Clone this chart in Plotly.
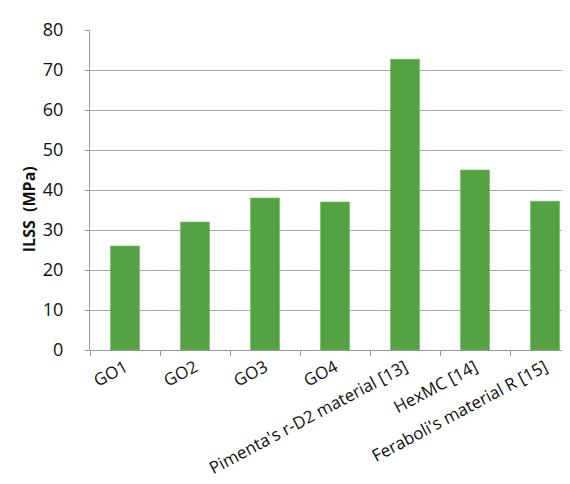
import plotly.graph_objects as go

categories = ["GO1", "GO2", "GO3", "GO4", "Pimenta's r-D2 material [13]",
              "HexMC [14]", "Feraboli's material R [15]"]
ilss_values = [26, 32, 38, 37, 72.7, 45, 37.2]
y_ticks = [0, 10, 20, 30, 40, 50, 60, 70, 80]

fig = go.Figure(go.Bar(
    x=categories, y=ilss_values,
    marker=dict(color="#55a244", line=dict(color="#6cc05a", width=0.6)),
))

font_family = "Open Sans"
fig.update_layout(
    width=570, height=484,
    margin=dict(l=82, r=0, t=22, b=142),
    paper_bgcolor="white", plot_bgcolor="white",
    bargap=0.585,
    showlegend=False,
    font=dict(family=font_family, color="#222222"),
)
fig.update_xaxes(
    range=[-0.5, 6.471],
    tickangle=-28,
    tickfont=dict(size=17, color="#111111"),
    showline=True, linecolor="#999999", linewidth=1,
    ticks="outside", tickson="boundaries", ticklen=5, tickcolor="#999999",
    showgrid=False,
)
fig.update_yaxes(
    range=[0, 80], tickvals=y_ticks,
    tickfont=dict(size=18, color="#111111"),
    showgrid=True, gridcolor="#a6a6a6", gridwidth=1,
    showline=True, linecolor="#999999", linewidth=1,
    ticks="outside", ticklen=4, tickcolor="#999999",
    ticklabelstandoff=18,
    zeroline=False,
)
fig.add_annotation(
    text="<b>ILSS  (MPa)</b>", textangle=-90,
    xref="paper", yref="paper", x=0, y=0.44, xshift=-61,
    xanchor="center", yanchor="middle",
    showarrow=False, font=dict(size=16, color="#111111"),
)
fig.write_html("out.html")
